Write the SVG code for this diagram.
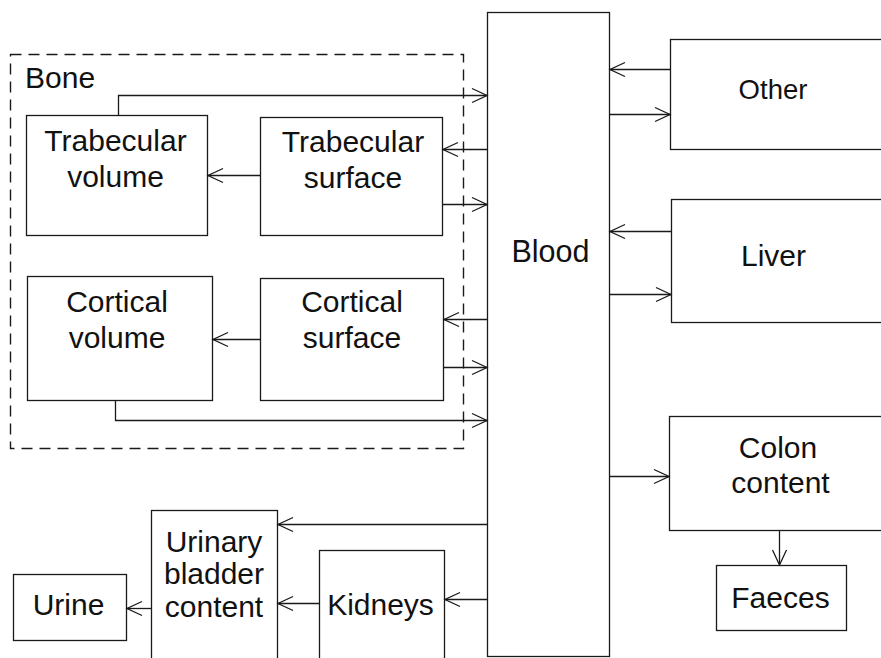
<svg xmlns="http://www.w3.org/2000/svg" width="881" height="658" viewBox="0 0 881 658">
  <style>
    .box { fill: #ffffff; stroke: #1a1a1a; stroke-width: 1.3; }
    .lbl { font-family: "Liberation Sans", Arial, sans-serif; font-size: 30px; fill: #111111; text-anchor: middle; }
    .edge { fill: none; stroke: #1a1a1a; stroke-width: 1.3; marker-end: url(#open); }
    .group { fill: none; stroke: #1a1a1a; stroke-width: 1.4; stroke-dasharray: 11 7; }
  </style>
  <defs>
    <marker id="open" markerUnits="userSpaceOnUse" viewBox="-17 -9 19 18" markerWidth="19" markerHeight="18" refX="0" refY="0" orient="auto">
      <path d="M-15,-7 L0,0 L-15,7" fill="none" stroke="#1a1a1a" stroke-width="1.3"/>
    </marker>
  </defs>
  <rect width="881" height="658" fill="#ffffff"/>

  <!-- Bone compartment grouping -->
  <g id="bone">
    <rect class="group" x="10.5" y="54.5" width="453" height="394"/>
    <text class="lbl" x="25" y="88" style="text-anchor:start">Bone</text>
  </g>

  <g id="trabecular-volume">
    <rect class="box" x="26.5" y="115.5" width="181" height="120"/>
    <text class="lbl" x="115.5" y="150.5">Trabecular</text>
    <text class="lbl" x="115.5" y="186.5">volume</text>
  </g>
  <g id="trabecular-surface">
    <rect class="box" x="260.5" y="117.5" width="182" height="118"/>
    <text class="lbl" x="353" y="152">Trabecular</text>
    <text class="lbl" x="353" y="188">surface</text>
  </g>
  <g id="cortical-volume">
    <rect class="box" x="27.5" y="276.5" width="185" height="124"/>
    <text class="lbl" x="117" y="312">Cortical</text>
    <text class="lbl" x="117" y="348">volume</text>
  </g>
  <g id="cortical-surface">
    <rect class="box" x="260.5" y="278.5" width="183" height="122"/>
    <text class="lbl" x="352" y="312">Cortical</text>
    <text class="lbl" x="352" y="348">surface</text>
  </g>

  <g id="blood">
    <rect class="box" x="487.5" y="12.5" width="122" height="644"/>
    <text class="lbl" x="550.5" y="262" style="font-size:30.5px">Blood</text>
  </g>

  <g id="other">
    <rect class="box" x="670.5" y="39.5" width="220" height="110"/>
    <text class="lbl" x="773" y="99" style="font-size:27.5px">Other</text>
  </g>
  <g id="liver">
    <rect class="box" x="671.5" y="199.5" width="220" height="123"/>
    <text class="lbl" x="773.5" y="265.5">Liver</text>
  </g>
  <g id="colon-content">
    <rect class="box" x="669.5" y="416.5" width="220" height="114"/>
    <text class="lbl" x="778" y="458">Colon</text>
    <text class="lbl" x="780.5" y="493">content</text>
  </g>
  <g id="faeces">
    <rect class="box" x="716.5" y="565.5" width="130" height="65"/>
    <text class="lbl" x="780.5" y="607.5">Faeces</text>
  </g>

  <g id="urinary-bladder-content">
    <rect class="box" x="151.5" y="510.5" width="126" height="160"/>
    <text class="lbl" x="214" y="551.5">Urinary</text>
    <text class="lbl" x="214" y="583.5">bladder</text>
    <text class="lbl" x="214" y="616.5">content</text>
  </g>
  <g id="kidneys">
    <rect class="box" x="319.5" y="550.5" width="125" height="120"/>
    <text class="lbl" x="380.5" y="615">Kidneys</text>
  </g>
  <g id="urine">
    <rect class="box" x="13.5" y="574.5" width="113" height="66"/>
    <text class="lbl" x="68.5" y="615">Urine</text>
  </g>

  <!-- transfer pathways -->
  <g id="connectors">
    <path class="edge" d="M118.5,115.5 V95.5 H487"/>
    <path class="edge" d="M487,149.5 H443"/>
    <path class="edge" d="M443,204.5 H487"/>
    <path class="edge" d="M260.5,175.5 H208"/>
    <path class="edge" d="M487,319.5 H444"/>
    <path class="edge" d="M444,367.5 H487"/>
    <path class="edge" d="M260.5,339.5 H213"/>
    <path class="edge" d="M115.5,400.5 V420.5 H487"/>

    <path class="edge" d="M670.5,69.5 H610"/>
    <path class="edge" d="M609.5,114.5 H670"/>
    <path class="edge" d="M671.5,231.5 H610"/>
    <path class="edge" d="M609.5,294.5 H671"/>
    <path class="edge" d="M609.5,476.5 H669"/>
    <path class="edge" d="M779.5,530.5 V565"/>

    <path class="edge" d="M487.5,524.5 H278"/>
    <path class="edge" d="M487.5,599.5 H445"/>
    <path class="edge" d="M319.5,603.5 H278"/>
    <path class="edge" d="M151.5,608.5 H127"/>
  </g>
</svg>
